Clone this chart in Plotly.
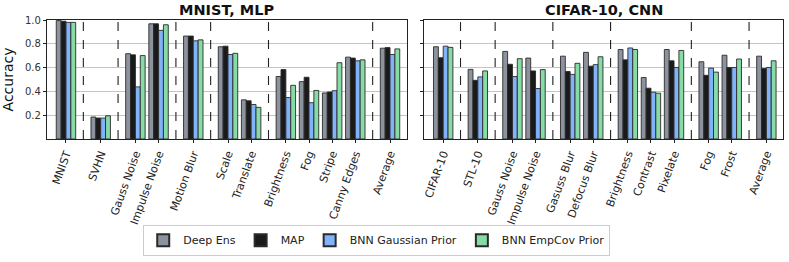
import plotly.graph_objects as go

# ---------------- data ----------------
series_names = ["Deep Ens", "MAP", "BNN Gaussian Prior", "BNN EmpCov Prior"]
series_colors = ["#8d939e", "#1a1a1a", "#80b3fa", "#86dba6"]

mnist_groups = [["MNIST"], ["SVHN"], ["Gauss Noise", "Impulse Noise"], ["Motion Blur"],
                ["Scale", "Translate"], ["Brightness", "Fog", "Stripe", "Canny Edges"], ["Average"]]
mnist_deep_ens = [0.995, 0.185, 0.717, 0.968, 0.865, 0.775, 0.329, 0.525, 0.482, 0.387, 0.688, 0.763]
mnist_map      = [0.990, 0.176, 0.707, 0.968, 0.865, 0.780, 0.321, 0.583, 0.519, 0.395, 0.680, 0.768]
mnist_gauss    = [0.980, 0.176, 0.438, 0.913, 0.825, 0.710, 0.290, 0.348, 0.305, 0.406, 0.657, 0.710]
mnist_empcov   = [0.980, 0.195, 0.701, 0.960, 0.833, 0.720, 0.266, 0.451, 0.408, 0.641, 0.665, 0.757]

cifar_groups = [["CIFAR-10"], ["STL-10"], ["Gauss Noise", "Impulse Noise"], ["Gasuss Blur", "Defocus Blur"],
                ["Brightness", "Contrast", "Pixelate"], ["Fog", "Frost"], ["Average"]]
cifar_deep_ens = [0.775, 0.585, 0.736, 0.680, 0.696, 0.728, 0.752, 0.517, 0.752, 0.649, 0.704, 0.696]
cifar_map      = [0.683, 0.493, 0.628, 0.572, 0.567, 0.612, 0.665, 0.427, 0.657, 0.535, 0.601, 0.593]
cifar_gauss    = [0.780, 0.522, 0.525, 0.424, 0.543, 0.625, 0.765, 0.393, 0.601, 0.596, 0.601, 0.601]
cifar_empcov   = [0.770, 0.572, 0.675, 0.583, 0.636, 0.691, 0.752, 0.385, 0.744, 0.562, 0.672, 0.657]

y_ticks = [0.2, 0.4, 0.6, 0.8, 1.0]
panel_titles = ["MNIST, MLP", "CIFAR-10, CNN"]


def layout_groups(groups):
    pos, labels, seps = [], [], []
    x = 0.0
    for gi, g in enumerate(groups):
        if gi > 0:
            seps.append(x - 1 + 0.75)
            x += 0.5
        for name in g:
            pos.append(x)
            labels.append(name)
            x += 1
    return pos, labels, seps


FONT = "DejaVu Sans"
fig = go.Figure()

panels = [
    (mnist_groups, [mnist_deep_ens, mnist_map, mnist_gauss, mnist_empcov], "x", "y"),
    (cifar_groups, [cifar_deep_ens, cifar_map, cifar_gauss, cifar_empcov], "x2", "y2"),
]

shapes = []
for pi, (groups, vals, xa, ya) in enumerate(panels):
    pos, labels, seps = layout_groups(groups)
    for si, name in enumerate(series_names):
        fig.add_trace(go.Bar(
            x=pos, y=vals[si], name=name, xaxis=xa, yaxis=ya,
            marker=dict(color=series_colors[si], line=dict(color="#2a2a2a", width=0.9)),
            showlegend=(pi == 0), legendgroup=name, offsetgroup=str(si),
        ))
    for s in seps:
        shapes.append(dict(type="line", xref=xa, yref=f"{ya} domain", x0=s, x1=s, y0=0, y1=1,
                           line=dict(color="#222", width=1.1, dash="dash")))
    axis_common = dict(
        tickmode="array", tickvals=pos, ticktext=labels, tickangle=-70,
        range=[-0.82, pos[-1] + 0.72], showline=True, mirror=True, linecolor="#222",
        linewidth=1.3, ticks="outside", ticklen=3, tickcolor="#222", showgrid=False,
        tickfont=dict(family=FONT, size=11, color="#222"), zeroline=False,
    )
    key = "xaxis" if pi == 0 else "xaxis2"
    fig.layout[key] = axis_common

fig.update_layout(
    xaxis=dict(domain=[0, 0.4887], anchor="y"),
    xaxis2=dict(domain=[0.5126, 1], anchor="y2"),
    yaxis=dict(range=[0, 1.0], tickvals=y_ticks, ticktext=[f"{t:.1f}" for t in y_ticks],
               showgrid=True, gridcolor="#c4c4c4", gridwidth=1, showline=True, mirror=True,
               linecolor="#222", linewidth=1.3, ticks="outside", ticklen=3, tickcolor="#222",
               zeroline=False, tickfont=dict(family=FONT, size=10, color="#333"),
               title=dict(text="Accuracy", font=dict(family=FONT, size=14, color="#111"), standoff=8)),
    yaxis2=dict(range=[0, 1.0], tickvals=y_ticks, showticklabels=False, anchor="x2",
                showgrid=True, gridcolor="#c4c4c4", gridwidth=1, showline=True, mirror=True,
                linecolor="#222", linewidth=1.3, ticks="outside", ticklen=3, tickcolor="#222",
                zeroline=False),
    barmode="group", bargap=0.16, bargroupgap=0,
    shapes=shapes,
    width=789, height=262,
    margin=dict(l=47, r=6, t=20, b=116),
    plot_bgcolor="white", paper_bgcolor="white",
    legend=dict(orientation="h", x=0.448, xanchor="center", y=-0.72, yanchor="top",
                bordercolor="#cccccc", borderwidth=1, font=dict(family=FONT, size=11, color="#222"),
                itemsizing="constant"),
    annotations=[
        dict(text=f"<b>{panel_titles[0]}</b>", xref="x domain", yref="paper", x=0.5, y=1.0,
             yanchor="bottom", yshift=0, showarrow=False, font=dict(family=FONT, size=14.5, color="#111")),
        dict(text=f"<b>{panel_titles[1]}</b>", xref="x2 domain", yref="paper", x=0.5, y=1.0,
             yanchor="bottom", yshift=0, showarrow=False, font=dict(family=FONT, size=14.5, color="#111")),
    ],
)

fig.write_html("out.html", config={"displayModeBar": False},
               post_script="document.body.style.margin='0';document.body.style.overflow='hidden';")
